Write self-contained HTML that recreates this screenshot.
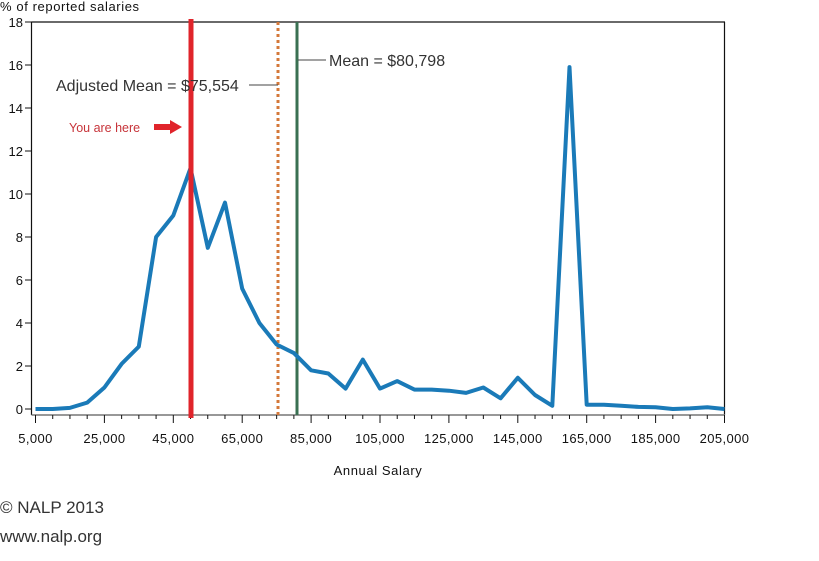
<!DOCTYPE html>
<html><head><meta charset="utf-8"><style>
body{margin:0;background:#fff;width:819px;height:561px;overflow:hidden}
svg{display:block}
text{font-family:"Liberation Sans",sans-serif}
</style></head><body>
<svg width="819" height="561" viewBox="0 0 819 561" xmlns="http://www.w3.org/2000/svg">
<text x="0" y="11" font-size="13" fill="#111" letter-spacing="0.6">% of reported salaries</text>
<g id="yt" font-size="13" fill="#111" text-anchor="end"></g>
<line x1="31.5" y1="22" x2="31.5" y2="415" stroke="#111" stroke-width="1.2"/>
<line x1="31.5" y1="22" x2="725" y2="22" stroke="#111" stroke-width="1.2"/>
<line x1="724.5" y1="22" x2="724.5" y2="415" stroke="#111" stroke-width="1.2"/>
<line x1="31.5" y1="415" x2="725" y2="415" stroke="#777" stroke-width="1.6"/>
<g id="ticks" stroke="#111" stroke-width="1"></g>
<g id="xl" font-size="13" fill="#111" text-anchor="middle" letter-spacing="0.4"></g>
<text x="378" y="475" font-size="13" fill="#111" text-anchor="middle" letter-spacing="0.6">Annual Salary</text>
<line x1="278" y1="22" x2="278" y2="415" stroke="#d4783a" stroke-width="3" stroke-dasharray="3,3"/>
<line x1="297" y1="22" x2="297" y2="415" stroke="#3a7052" stroke-width="3"/>
<polyline id="series" fill="none" stroke="#1a7ab8" stroke-width="4" stroke-linejoin="round"/>
<line x1="191" y1="19" x2="191" y2="418" stroke="#e0242b" stroke-width="5"/>
<line x1="298" y1="60" x2="326" y2="60" stroke="#444" stroke-width="1"/>
<text x="329" y="66" font-size="16" fill="#333">Mean = $80,798</text>
<line x1="249" y1="85" x2="278" y2="85" stroke="#444" stroke-width="1"/>
<text x="56" y="91" font-size="16" fill="#333">Adjusted Mean = $75,554</text>
<text x="69" y="132" font-size="12.5" fill="#c7343a">You are here</text>
<polygon points="154,124 170,124 170,120 182,127 170,134 170,130 154,130" fill="#e0242b"/>
<text x="0" y="513" font-size="17" fill="#333">© NALP 2013</text>
<text x="0" y="542" font-size="17" fill="#333">www.nalp.org</text>
</svg>
<script>
var ns="http://www.w3.org/2000/svg";
function X(k){return 35.5+(k-5)*3.445}
function Y(v){return 409-v*21.5}
var yt=document.getElementById('yt');
for(var v=0;v<=18;v+=2){var t=document.createElementNS(ns,'text');t.setAttribute('x',23);t.setAttribute('y',Y(v)+5);t.textContent=v;yt.appendChild(t);
var l=document.createElementNS(ns,'line');l.setAttribute('x1',25);l.setAttribute('x2',31.5);l.setAttribute('y1',Y(v));l.setAttribute('y2',Y(v));l.setAttribute('stroke','#111');yt.appendChild(l);}
var tk=document.getElementById('ticks'),xl=document.getElementById('xl');
for(var k=5;k<=205;k+=5){var l=document.createElementNS(ns,'line');l.setAttribute('x1',X(k));l.setAttribute('x2',X(k));l.setAttribute('y1',415);l.setAttribute('y2',(k-5)%20==0?423:419);tk.appendChild(l);}
for(var k=5;k<=205;k+=20){var t=document.createElementNS(ns,'text');t.setAttribute('x',X(k));t.setAttribute('y',443);t.textContent=(k==5?'5':k)+',000';xl.appendChild(t);}
var d=[0,0,0.05,0.3,1.0,2.1,2.9,8.0,9.0,11.2,7.5,9.6,5.6,4.0,3.0,2.6,1.8,1.65,0.95,2.3,0.95,1.3,0.9,0.9,0.85,0.75,1.0,0.5,1.45,0.65,0.15,15.9,0.2,0.2,0.15,0.1,0.08,0.0,0.03,0.08,0.0];
var p=[];for(var i=0;i<d.length;i++)p.push(X(5+i*5).toFixed(1)+','+Y(d[i]).toFixed(1));
document.getElementById('series').setAttribute('points',p.join(' '));
</script>
</body></html>
